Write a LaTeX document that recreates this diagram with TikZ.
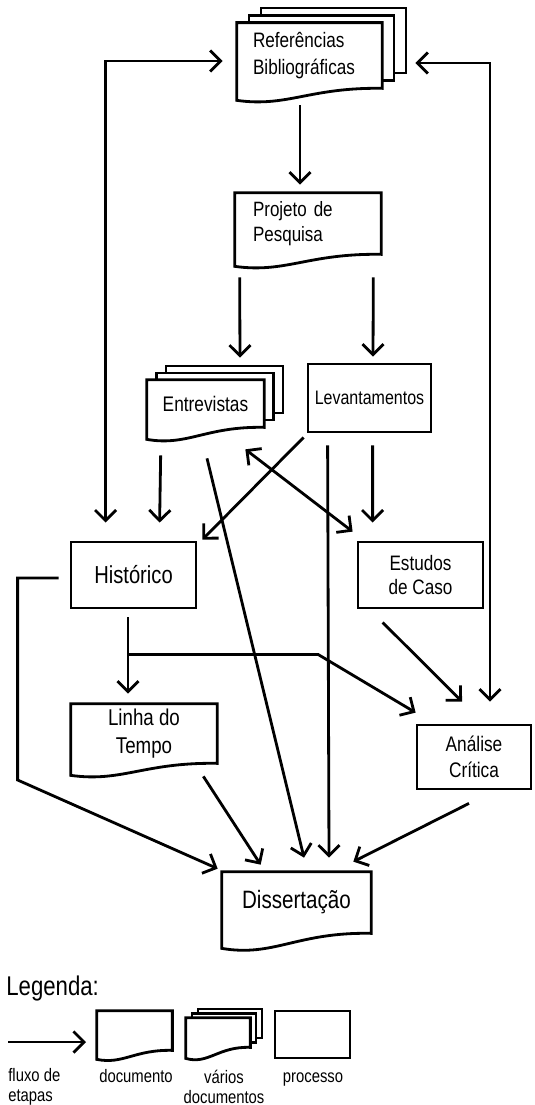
\documentclass[tikz,border=0pt]{standalone}
\usepackage{fontspec}
\setmainfont{Liberation Sans}[FakeStretch=0.82]
\usetikzlibrary{arrows.meta,calc,backgrounds}

% document outline: rectangle with a wavy bottom edge
\newcommand{\docoutline}[2]{%
  \draw[docline] (#1.north west) -- (#1.north east) -- (#1.south east)
    .. controls ($(#1.south east)!0.5!(#1.south west)+(0,-0.1*#2)$)
    and ($(#1.south east)!0.65!(#1.south west)+(0,1.6*#2)$)
    .. ($(#1.south west)+(0,#2)$) -- cycle;}

\begin{document}
\begin{tikzpicture}[
    x=0.02cm, y=-0.02cm,
    procbox/.style={
        rectangle,
        draw=black,
        line width=1.6pt,
        inner sep=0pt,
        align=center
    },
    docbox/.style={
        rectangle,
        inner sep=0pt,
        align=center
    },
    docline/.style={draw=black, line width=1.6pt, fill=white},
    sheet/.style={rectangle, draw=black, line width=1.6pt, fill=white, inner sep=0pt},
    arrow/.style={-{Straight Barb[length=6pt,width=12pt]}, line width=1.6pt},
    biarrow/.style={{Straight Barb[length=6pt,width=12pt]}-{Straight Barb[length=6pt,width=12pt]}, line width=1.6pt},
]
\useasboundingbox (0,0) rectangle (534,1105);

% Documents
\node[docbox, minimum height=1.3cm, inner xsep=0.32cm, text width=2.26cm, align=left,
      font=\fontsize{11.9}{15.3}\selectfont] (ref) at (309.5,55.5) {Referências\\Bibliográficas};
\node[docbox, minimum height=1.22cm, inner xsep=0.36cm, text width=2.2cm, align=left,
      font=\fontsize{11.8}{14.2}\selectfont] (proj) at (308,223.5) {Projeto de\\Pesquisa};
\node[docbox, minimum width=2.34cm, minimum height=0.94cm,
      font=\fontsize{12}{14}\selectfont] (entr) at (205.5,403.5) {Entrevistas};
\node[docbox, minimum width=2.92cm, minimum height=1.18cm,
      font=\fontsize{13}{16.4}\selectfont] (linha) at (144,733.5) {Linha do\\Tempo};
\node[docbox, minimum width=2.98cm, minimum height=1.22cm,
      font=\fontsize{14.3}{17}\selectfont] (diss) at (296.5,902.5) {Dissertação};

% Processes
\node[procbox, minimum width=2.46cm, minimum height=1.36cm,
      font=\fontsize{11.1}{13}\selectfont] (lev) at (369.5,398) {Levantamentos};
\node[procbox, minimum width=2.5cm, minimum height=1.32cm,
      font=\fontsize{14}{16}\selectfont] (hist) at (133.5,575) {Histórico};
\node[procbox, minimum width=2.5cm, minimum height=1.32cm,
      font=\fontsize{11.9}{14.2}\selectfont] (est) at (420.5,575) {Estudos\\de Caso};
\node[procbox, minimum width=2.28cm, minimum height=1.28cm,
      font=\fontsize{12}{14.7}\selectfont] (anal) at (474,757) {Análise\\Crítica};

% === STACKED SHEETS + OUTLINES (behind the text) ===
\begin{scope}[on background layer]
\foreach \i in {2,1} {
    \node[sheet, minimum width=2.9cm, minimum height=1.3cm] (ref_sheet_\i)
        at ($(ref)+(\i*12,-\i*7.5)$) {};
}
\docoutline{ref}{12}
\docoutline{proj}{12}
\foreach \i in {2,1} {
    \node[sheet, minimum width=2.34cm, minimum height=0.94cm] (entr_sheet_\i)
        at ($(entr)+(\i*9.5,-\i*7)$) {};
}
\docoutline{entr}{12}
\docoutline{linha}{12}
\docoutline{diss}{15}
\end{scope}

% Arrows
\draw[arrow] ([shift={(-9.5,17)}]ref.south) -- ([shift={(-8,-8)}]proj.north);
\draw[arrow] ([shift={(5,23)}]proj.south west) -- ([shift={(34.5,-22)}]entr.north);
\draw[arrow] ([shift={(-8,23)}]proj.south east) -- ([shift={(3.5,-6)}]lev.north);

\draw[biarrow] ([shift={(-14,5.5)}]ref.west) -| ([shift={(36,-18)}]hist.north west);
\draw[biarrow] ([shift={(33,7.5)}]ref.east) -| ([shift={(16,-22)}]anal.north);

\draw[arrow] ([shift={(14,28)}]entr.south west) -- ([shift={(90,-18)}]hist.north west);
\draw[arrow] ([shift={(1.5,31)}]entr.south) -- ([shift={(7.5,-14)}]diss.north);
\draw[biarrow] ([shift={(-19,22)}]entr.south east) -- ([shift={(-4,-9)}]est.north west);

\draw[arrow] ([shift={(-3,4)}]lev.south west) -- ([shift={(5,-1)}]hist.north east);
\draw[arrow] ([shift={(21,12)}]lev.south west) -- ([shift={(32.5,-14)}]diss.north);
\draw[arrow] ([shift={(66,12)}]lev.south west) -- ([shift={(16,-18)}]est.north west);

\draw[arrow] ([shift={(-11,3)}]hist.west) -- ++(-41,0) -- ++(0,202)
    -- ([shift={(-4,-3)}]diss.north west);
\draw[arrow] ([shift={(-5.5,8)}]hist.south) -- ([shift={(-16,-10)}]linha.north);
\coordinate (branch) at ([shift={(-5.5,45)}]hist.south);
\draw[arrow] (branch) -- ++(190,0) -- ([shift={(0,-11)}]anal.north west);

\draw[arrow] ([shift={(26,13)}]est.south west) -- ([shift={(-12,-22)}]anal.north);
\draw[arrow] ([shift={(-14,13)}]linha.south east) -- ([shift={(39,-7)}]diss.north west);
\draw[arrow] ([shift={(-5,13)}]anal.south) -- ([shift={(-18,-10)}]diss.north east);

% === LEGEND ===
\node[anchor=base west, inner sep=0pt, font=\fontsize{15.4}{18}\selectfont] (legtitle) at (6,995) {Legenda:};

\coordinate (legA) at (8,1042);
\coordinate (legB) at (86,1042);
\draw[arrow] (legA) -- (legB);

\node[docbox, minimum width=1.5cm, minimum height=0.78cm] (legdoc) at (134.5,1030.5) {};
\node[docbox, minimum width=1.28cm, minimum height=0.58cm] (legmulti) at (218,1032.5) {};
\node[procbox, minimum width=1.5cm, minimum height=0.94cm] (legproc) at (312.5,1034.5) {};
\begin{scope}[on background layer]
\docoutline{legdoc}{9}
\foreach \i in {2,1} {
    \node[sheet, minimum width=1.28cm, minimum height=0.58cm] (legmulti_sheet_\i)
        at ($(legmulti)+(\i*6,-\i*4.5)$) {};
}
\docoutline{legmulti}{11}
\end{scope}

\node[anchor=west, inner sep=0pt, align=left, font=\fontsize{10.3}{11.3}\selectfont] (legflowlbl) at (8,1087) {fluxo de\\etapas};
\node[anchor=base, inner sep=0pt, font=\fontsize{10.3}{11.3}\selectfont] (legdoclbl) at (136,1082) {documento};
\node[inner sep=0pt, align=center, font=\fontsize{10.3}{11.3}\selectfont] (legmultilbl) at (224,1087) {vários\\documentos};
\node[anchor=base, inner sep=0pt, font=\fontsize{10.3}{11.3}\selectfont] (legproclbl) at (313,1082) {processo};

\end{tikzpicture}
\end{document}
